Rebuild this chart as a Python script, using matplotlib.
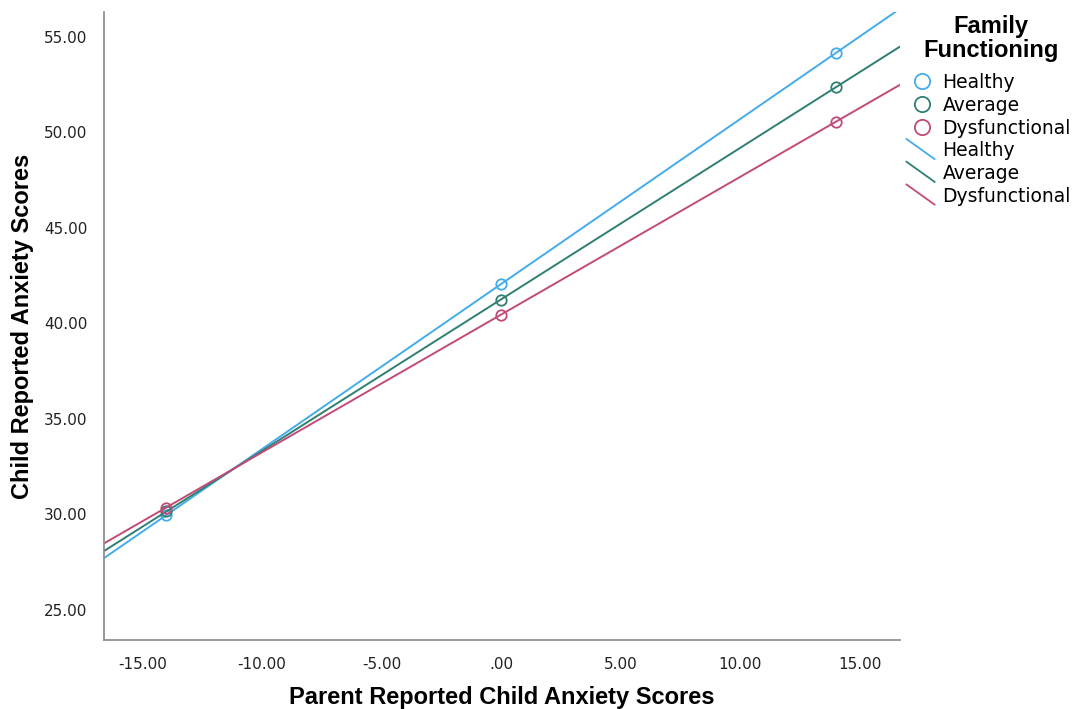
"""Child vs parent reported anxiety, by family functioning (SPSS-style line plot)."""

import matplotlib

matplotlib.use("Agg")
import matplotlib.pyplot as plt
import numpy as np
from matplotlib.legend_handler import HandlerBase
from matplotlib.lines import Line2D

# --- data ---
groups = ["Healthy", "Average", "Dysfunctional"]
parent_x = [-14.0, 0.0, 14.0]
healthy_y = [29.95, 42.05, 54.15]
average_y = [30.15, 41.22, 52.37]
dysfunctional_y = [30.35, 40.45, 50.55]
group_y = [healthy_y, average_y, dysfunctional_y]

colors = ["#44acec", "#2f7f72", "#c24a78"]

XLIM = (-16.6, 16.7)
YLIM = (23.4, 56.3)
x_ticks = [-15, -10, -5, 0, 5, 10, 15]
y_ticks = [25, 30, 35, 40, 45, 50, 55]


def _fmt(v):
    s = f"{v:.2f}"
    return s[1:] if s.startswith("0") else s


class DiagonalHandler(HandlerBase):
    # SPSS draws fit-line legend keys as a short descending diagonal
    def create_artists(self, legend, orig_handle, xdescent, ydescent,
                       width, height, fontsize, trans):
        line = Line2D([-xdescent - 3, width - xdescent + 1],
                      [height - ydescent + 3, -ydescent - 2],
                      color=orig_handle.get_color(), lw=1.3)
        line.set_transform(trans)
        return [line]


fig = plt.figure(figsize=(10.73, 7.09), dpi=100)
ax = fig.add_axes([0.097, 0.097, 0.742, 0.886])

xs = np.array(XLIM)
for name, ys, c in zip(groups, group_y, colors):
    slope, icpt = np.polyfit(parent_x, ys, 1)
    ax.plot(xs, slope * xs + icpt, color=c, lw=1.4, solid_capstyle="butt")
    ax.plot(parent_x, ys, "o", mfc="none", mec=c, mew=1.3, ms=7.5)

ax.set_xlim(*XLIM)
ax.set_ylim(*YLIM)
ax.set_xticks(x_ticks)
ax.set_yticks(y_ticks)
ax.set_xticklabels([_fmt(v) for v in x_ticks])
ax.set_yticklabels([_fmt(v) for v in y_ticks])
ax.tick_params(length=0, labelsize=11, colors="#222222", pad=12)
for side in ("top", "right"):
    ax.spines[side].set_visible(False)
for side in ("left", "bottom"):
    ax.spines[side].set_color("#888888")
    ax.spines[side].set_linewidth(1.2)

ax.set_xlabel("Parent Reported Child Anxiety Scores", fontsize=17,
              fontweight="bold", family="Liberation Sans", va="center")
ax.set_ylabel("Child Reported Anxiety Scores", fontsize=17,
              fontweight="bold", family="Liberation Sans", va="center")
ax.xaxis.set_label_coords(0.5, -0.091)
ax.yaxis.set_label_coords(-0.103, 0.5)

handles = [Line2D([], [], ls="none", marker="o", mfc="none", mec=c, mew=1.3, ms=11)
           for c in colors]
line_handles = [Line2D([], [], color=c) for c in colors]
handler_map = {h: DiagonalHandler() for h in line_handles}
leg = fig.legend(handles + line_handles, groups + groups,
                 handler_map=handler_map,
                 loc="upper left", bbox_to_anchor=(0.840, 0.992),
                 frameon=False, fontsize=13.5, title="Family\nFunctioning",
                 title_fontproperties={"weight": "bold", "size": 17,
                                       "family": "Liberation Sans"},
                 alignment="center",
                 handlelength=1.2, handletextpad=0.5, labelspacing=0.2,
                 borderaxespad=0.2, borderpad=0.3)
leg.get_title().set_linespacing(1.05)
leg.get_title().set_ha("center")
leg._legend_box.sep = 8

fig.savefig("out.png", dpi=100)
